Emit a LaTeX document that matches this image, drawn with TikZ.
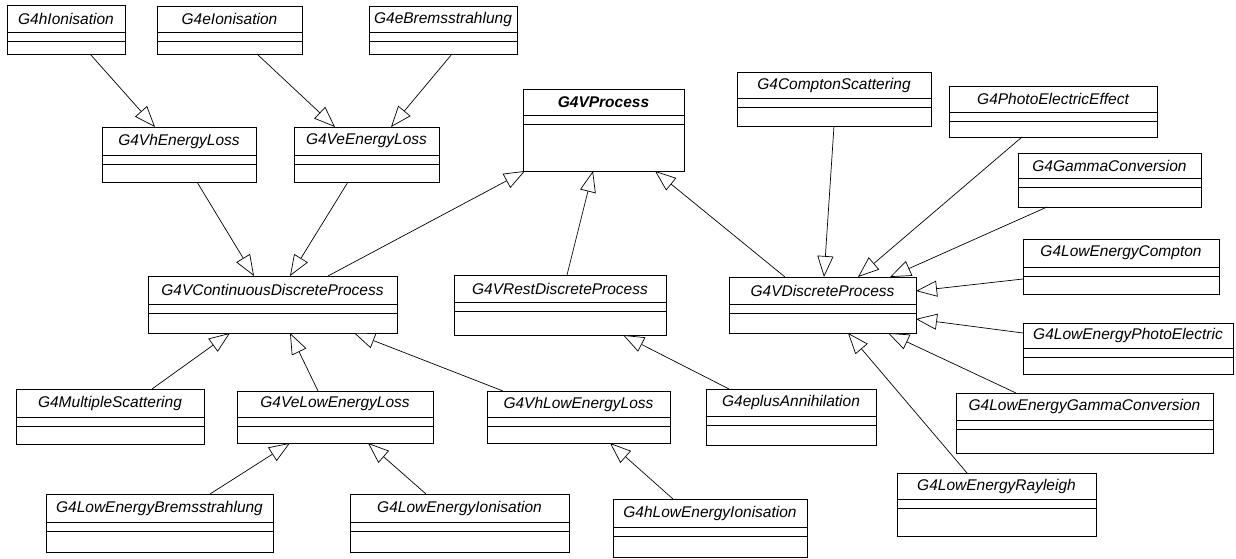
\documentclass[tikz,border=0pt]{standalone}
\usepackage{fontspec}
\setmainfont{Liberation Sans}
\usetikzlibrary{arrows.meta}

\begin{document}
\begin{tikzpicture}[x=1pt, y=-1pt, line width=0.8pt, >={Triangle[width=16pt, length=21pt, fill=white]}]
	\tikzstyle{cls} = [rectangle, draw=black, inner sep=0pt, outer sep=0pt]
	\tikzstyle{clsname} = [rectangle, inner sep=0pt, outer sep=0pt, font=\fontsize{15.5}{18}\selectfont\itshape]
	\tikzstyle{inh} = [->, line width=0.7pt, shorten >=0pt]
	\useasboundingbox (0,0) rectangle (1236,559);
	% classes: name/x/y/width/height/title row/text
	\foreach \n/\x/\y/\w/\h/\r/\t in {
		hion/7/5/118/49/27/{G4hIonisation},
		eion/157/6/145/48/26/{G4eIonisation},
		ebrem/369/6/148/48/26/{G4eBremsstrahlung},
		vhel/102/127/154/55/28/{G4VhEnergyLoss},
		veel/294/127/145/55/28/{G4VeEnergyLoss},
		vproc/523/89/161/82/26/{\textbf{G4VProcess}},
		compt/737/72/194/54/26/{G4ComptonScattering},
		photo/949/86/208/51/26/{G4PhotoElectricEffect},
		gconv/1018/153/183/54/25/{G4GammaConversion},
		vcdp/148/276/249/57/28/{G4VContinuousDiscreteProcess},
		vrdp/454/275/212/60/27/{G4VRestDiscreteProcess},
		vdp/729/277/187/56/27/{G4VDiscreteProcess},
		lecomp/1023/239/196/55/28/{G4LowEnergyCompton},
		lephoto/1023/323/210/51/25/{G4LowEnergyPhotoElectric},
		msc/16/389/188/55/28/{G4MultipleScattering},
		velel/237/391/196/52/26/{G4VeLowEnergyLoss},
		vhlel/487/391/183/52/26/{G4VhLowEnergyLoss},
		eplus/706/389/170/56/27/{G4eplusAnnihilation},
		legconv/956/393/257/60/27/{G4LowEnergyGammaConversion},
		lebrem/46/494/227/58/28/{G4LowEnergyBremsstrahlung},
		leion/350/494/219/58/28/{G4LowEnergyIonisation},
		hleion/613/499/194/58/28/{G4hLowEnergyIonisation},
		lerayl/897/473/199/63/26/{G4LowEnergyRayleigh}}{
		\node[cls, minimum width=\w pt, minimum height=\h pt, anchor=north west] (\n) at (\x,\y) {};
		\node[clsname, minimum width=\w pt, minimum height=\r pt, anchor=north west] (\n-t) at (\x,\y) {\t};
		\draw (\n-t.south west) -- (\n-t.south east);
		\draw ([yshift=-9pt]\n-t.south west) -- ([yshift=-9pt]\n-t.south east);
	}
	% energy loss branch
	\draw[inh] ([xshift=83pt]hion.south west) -- ([xshift=53pt]vhel.north west);
	\draw[inh] ([xshift=100pt]eion.south west) -- ([xshift=41pt]veel.north west);
	\draw[inh] ([xshift=83pt]ebrem.south west) -- ([xshift=97pt]veel.north west);
	\draw[inh] ([xshift=95pt]vhel.south west) -- ([xshift=106pt]vcdp.north west);
	\draw[inh] ([xshift=54pt]veel.south west) -- ([xshift=142pt]vcdp.north west);
	% to G4VProcess
	\draw[inh] ([xshift=180pt]vcdp.north west) -- ([xshift=2pt]vproc.south west);
	\draw[inh] ([xshift=113pt]vrdp.north west) -- ([xshift=70pt]vproc.south west);
	\draw[inh] ([xshift=56pt]vdp.north west) -- ([xshift=132pt]vproc.south west);
	% discrete processes
	\draw[inh] ([xshift=97pt]compt.south west) -- ([xshift=95pt]vdp.north west);
	\draw[inh] ([xshift=73pt]photo.south west) -- ([xshift=129pt]vdp.north west);
	\draw[inh] ([xshift=29pt]gconv.south west) -- ([xshift=161pt]vdp.north west);
	\draw[inh] ([yshift=-40pt]lecomp.north west) -- ([yshift=-14pt]vdp.north east);
	\draw[inh] ([yshift=-10pt]lephoto.north west) -- ([yshift=-42pt]vdp.north east);
	\draw[inh] ([xshift=60pt]legconv.north west) -- ([xshift=159pt]vdp.south west);
	\draw[inh] ([xshift=70pt]lerayl.north west) -- ([xshift=119pt]vdp.south west);
	\draw[inh] ([xshift=23pt]eplus.north west) -- ([xshift=169pt]vrdp.south west);
	% low energy branch
	\draw[inh] ([xshift=136pt]msc.north west) -- ([xshift=82pt]vcdp.south west);
	\draw[inh] ([xshift=81pt]velel.north west) -- ([xshift=142pt]vcdp.south west);
	\draw[inh] ([xshift=16pt]vhlel.north west) -- ([xshift=206pt]vcdp.south west);
	\draw[inh] ([xshift=164pt]lebrem.north west) -- ([xshift=53pt]velel.south west);
	\draw[inh] ([xshift=76pt]leion.north west) -- ([xshift=131pt]velel.south west);
	\draw[inh] ([xshift=60pt]hleion.north west) -- ([xshift=123pt]vhlel.south west);
\end{tikzpicture}
\end{document}
